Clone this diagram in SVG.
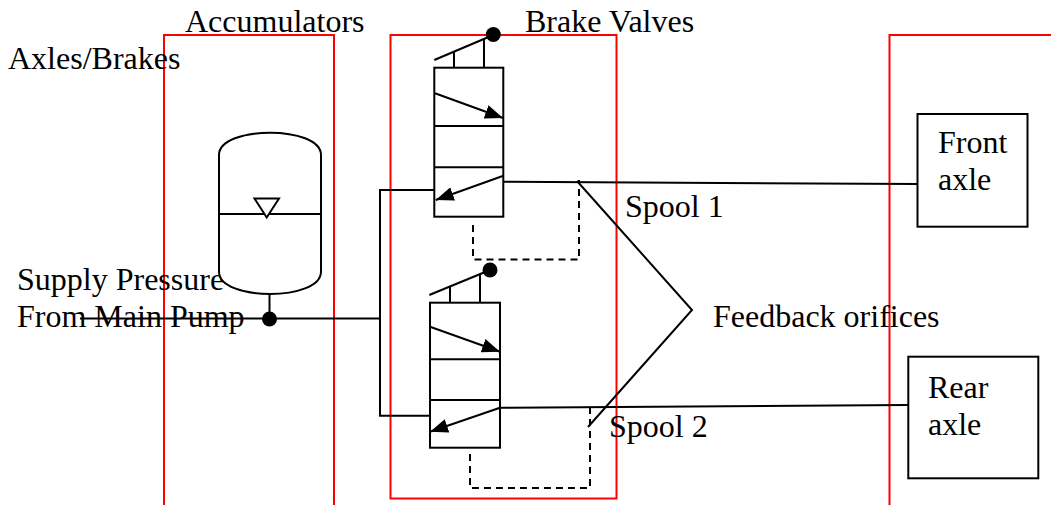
<svg xmlns="http://www.w3.org/2000/svg" width="1051" height="505" viewBox="0 0 1051 505">
<style>
.t{font-family:"Liberation Serif","Times New Roman",serif;font-size:32px;fill:#000}
.red{fill:none;stroke:#ff0000;stroke-width:2}
.ln{fill:none;stroke:#000;stroke-width:2}
.dash{fill:none;stroke:#000;stroke-width:2;stroke-dasharray:7,5}
.box{fill:#fff;stroke:#000;stroke-width:2}
</style>
<defs>
<marker id="arr" viewBox="0 0 18 14" refX="18" refY="7" markerWidth="18" markerHeight="14" markerUnits="userSpaceOnUse" orient="auto">
<path d="M0,0 L18,7 L0,14 Z" fill="#000"/>
</marker>
</defs>
<rect width="1051" height="505" fill="#fff"/>
<g id="regions">
<polyline class="red" points="164,505 164,35 334,35 334,505"/>
<rect class="red" x="390.5" y="35" width="226" height="463.5"/>
<polyline class="red" points="889.5,505 889.5,35 1052,35"/>
</g>
<g id="labels">
<text class="t" x="8" y="69">Axles/Brakes</text>
<text class="t" x="185" y="32">Accumulators</text>
<text class="t" x="525" y="32">Brake Valves</text>
<text class="t" x="17" y="290">Supply Pressure</text>
<text class="t" x="17" y="327">From Main Pump</text>
<text class="t" x="625" y="217">Spool 1</text>
<text class="t" x="609" y="437">Spool 2</text>
<text class="t" x="713" y="327">Feedback orifices</text>
</g>
<g id="connectors">
<line class="ln" x1="80" y1="318.5" x2="380" y2="318.5"/>
<line class="ln" x1="269.5" y1="294" x2="269.5" y2="319"/>
<polyline class="ln" points="440,190 380,190 380,415.7 440,415.7"/>
<line class="ln" x1="500" y1="181.7" x2="918" y2="184"/>
<line class="ln" x1="500" y1="407.7" x2="908" y2="405"/>
<polyline class="dash" points="473,225 473,259.5 579,259.5 579,180"/>
<polyline class="dash" points="470,454 470,488 590,488 590,407.7"/>
<polyline class="ln" points="577,181 692,310 588,427"/>
</g>
<g id="accumulator">
<path class="box" d="M219,155 C219,125.3 321,125.3 321,155 L321,271.7 C321,301.4 219,301.4 219,271.7 Z"/>
<line class="ln" x1="219" y1="214" x2="321" y2="214"/>
<polygon points="254.5,198.5 279,198.5 266.7,217.5" fill="#fff" stroke="#000" stroke-width="2"/>
<circle cx="269.5" cy="319" r="7.5" fill="#000"/>
</g>
<g id="valve1">
<rect class="box" x="434.3" y="67.7" width="69" height="149"/>
<line class="ln" x1="434.3" y1="126" x2="503.3" y2="126"/>
<line class="ln" x1="434.3" y1="167.3" x2="503.3" y2="167.3"/>
<line class="ln" x1="435" y1="93.3" x2="503" y2="118" marker-end="url(#arr)"/>
<line class="ln" x1="502.7" y1="176" x2="435.7" y2="200" marker-end="url(#arr)"/>
<line class="ln" x1="434.3" y1="60" x2="493.3" y2="35"/>
<line class="ln" x1="454" y1="51.5" x2="454" y2="67.7"/>
<line class="ln" x1="484" y1="38.9" x2="484" y2="67.7"/>
<circle cx="493.3" cy="34.5" r="7.5" fill="#000"/>
</g>
<g id="valve2">
<rect class="box" x="430" y="302.7" width="70" height="145"/>
<line class="ln" x1="430" y1="359.3" x2="500" y2="359.3"/>
<line class="ln" x1="430" y1="400" x2="500" y2="400"/>
<line class="ln" x1="430" y1="326.7" x2="500" y2="351.7" marker-end="url(#arr)"/>
<line class="ln" x1="500" y1="407.7" x2="430" y2="431.7" marker-end="url(#arr)"/>
<line class="ln" x1="429.3" y1="295" x2="490" y2="270"/>
<line class="ln" x1="450" y1="286.4" x2="450" y2="302.7"/>
<line class="ln" x1="480" y1="274.1" x2="480" y2="302.7"/>
<circle cx="490" cy="270" r="7.5" fill="#000"/>
</g>
<g id="front-axle">
<rect class="box" x="917.5" y="114" width="110" height="112.7"/>
<text class="t" x="938" y="153">Front</text>
<text class="t" x="938" y="190">axle</text>
</g>
<g id="rear-axle">
<rect class="box" x="908.3" y="356.7" width="130" height="121.6"/>
<text class="t" x="928" y="398">Rear</text>
<text class="t" x="928" y="435">axle</text>
</g>
</svg>
